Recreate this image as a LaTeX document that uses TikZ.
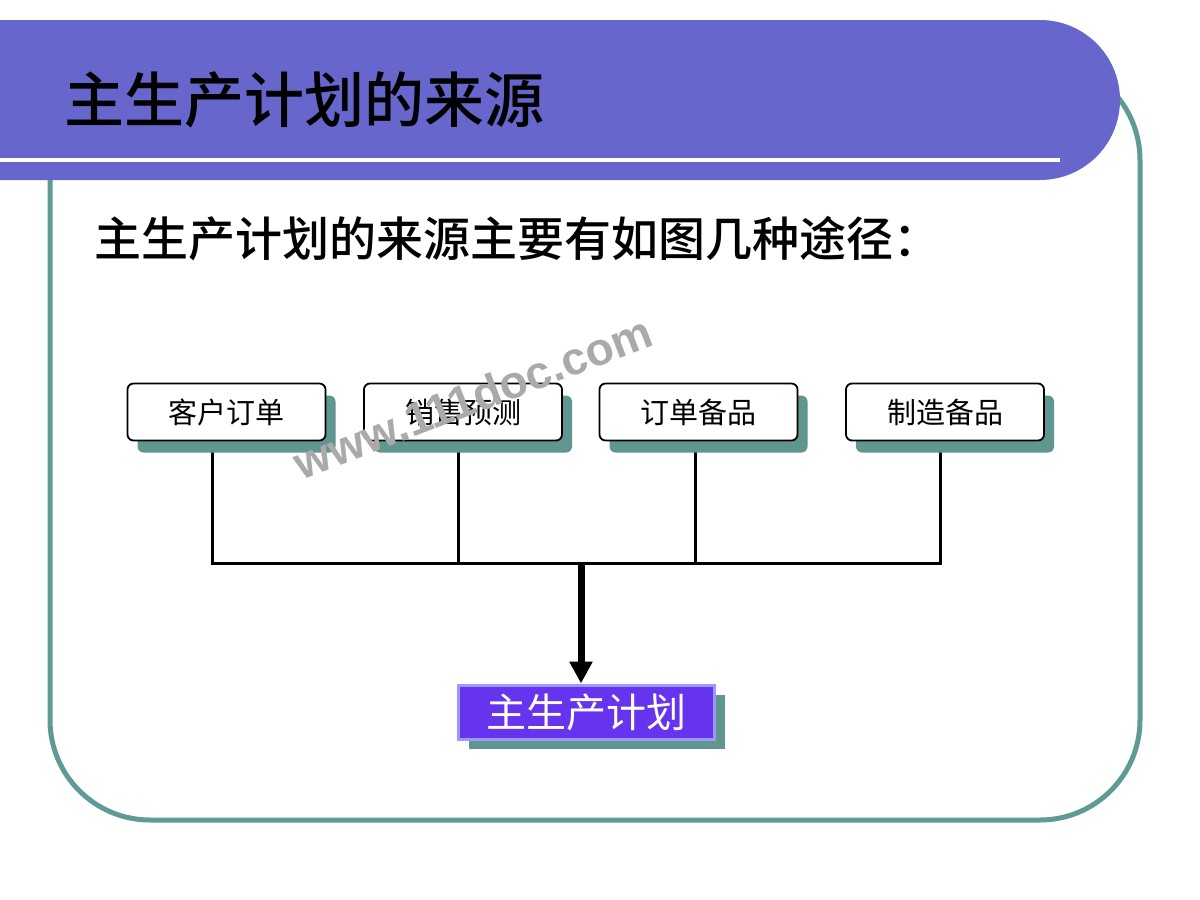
\documentclass[tikz,border=0pt]{standalone}
\usepackage{fontspec}
\setmainfont{Liberation Sans}
\newfontfamily\cjk{Noto Sans CJK SC}
\newfontfamily\cjkmed[UprightFont={* Medium}]{Noto Sans CJK SC}
\newfontfamily\wmfont{Liberation Sans}
\usetikzlibrary{arrows.meta,shadows}
\definecolor{bandblue}{HTML}{6666CC}
\definecolor{frameteal}{HTML}{5F9B96}
\definecolor{shadowteal}{HTML}{609690}
\definecolor{mainpurple}{HTML}{6633EE}
\definecolor{mainborder}{HTML}{9999FF}
\definecolor{wmgray}{HTML}{AAAAAA}
\begin{document}
\begin{tikzpicture}[x=1pt,y=-1pt,
  srcbox/.style={draw=black, line width=1.8pt, fill=white, rounded corners=6pt,
    minimum width=198pt, minimum height=57pt, inner sep=0pt,
    font=\cjk\fontsize{29}{29}\selectfont,
    drop shadow={shadow xshift=10pt, shadow yshift=-12pt, fill=shadowteal, opacity=1}},
  mainbox/.style={draw=mainborder, line width=3pt, fill=mainpurple, text=white,
    minimum width=256pt, minimum height=54pt, inner sep=0pt,
    font=\cjk\fontsize{40}{40}\selectfont,
    drop shadow={shadow xshift=10pt, shadow yshift=-10pt, fill=shadowteal, opacity=1}},
  bus/.style={line width=3pt, black, line join=miter},
  bigarrow/.style={line width=7pt, black, -{Triangle[width=22pt,length=22pt]}}
]
\useasboundingbox (0,0) rectangle (1200,900);
\fill[white] (0,0) rectangle (1200,900);
% frame
\draw[frameteal, line width=5pt, rounded corners=100pt] (50,60) rectangle (1140,820);
% title band
\fill[bandblue] (0,20) -- (1040,20) arc[start angle=90, end angle=-90, radius=80pt] -- (0,180) -- cycle;
\draw[white, line width=4pt] (0,160) -- (1060,160);
\node[anchor=west, inner sep=0pt, font=\cjkmed\fontsize{60}{60}\selectfont] (title) at (64,100) {主生产计划的来源};
\node[anchor=west, inner sep=0pt, font=\cjkmed\fontsize{47}{47}\selectfont] (sub) at (94,239) {主生产计划的来源主要有如图几种途径：};
% junction coordinates
\coordinate (j1) at (212,563);
\coordinate (j2) at (458,563);
\coordinate (j3) at (695,563);
\coordinate (j4) at (940,563);
\coordinate (jm) at (581,563);
% box centres (connectors are drawn before the boxes)
\path (226.5,412) coordinate (c1) (463,412) coordinate (c2) (698.5,412) coordinate (c3) (945,412) coordinate (c4);
\draw[bus] (c1 -| j1) -- (j1) -- (j4) -- (c4 -| j4);
\draw[bus] (c2 -| j2) -- (j2);
\draw[bus] (c3 -| j3) -- (j3);
% source boxes
\node[srcbox] (b1) at (c1) {客户订单};
\node[srcbox] (b2) at (c2) {销售预测};
\node[srcbox] (b3) at (c3) {订单备品};
\node[srcbox] (b4) at (c4) {制造备品};
% main box
\node[mainbox] (main) at (586.5,712) {主生产计划};
\draw[bigarrow] (jm) -- (main.north -| jm);
% watermark
\node[rotate=21, inner sep=0pt, text=wmgray, font=\wmfont\bfseries\fontsize{46}{46}\selectfont] (wm) at (473,397) {www.111doc.com};
\end{tikzpicture}
\end{document}
